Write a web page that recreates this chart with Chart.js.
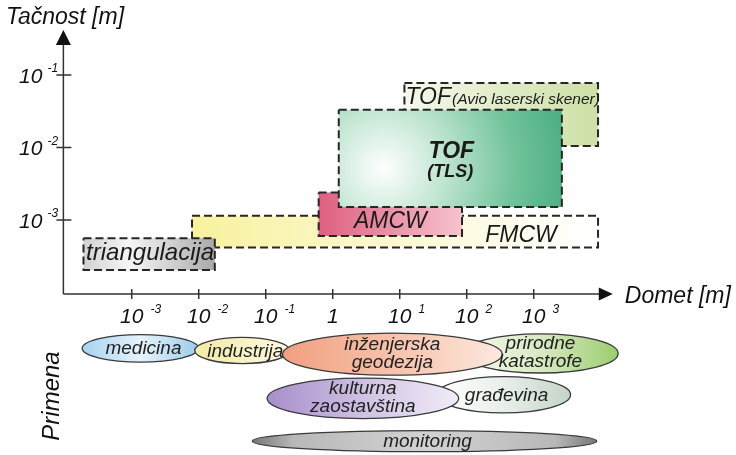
<!DOCTYPE html>
<html><head><meta charset="utf-8">
<script src="https://cdn.jsdelivr.net/npm/chart.js@4/dist/chart.umd.min.js"></script>
<style>html,body{margin:0;padding:0;background:#fff}canvas{display:block}</style>
</head><body>
<canvas id="c" width="736" height="455"></canvas>
<script>
// All values are log10 of metres: x = Domet (range), y = Tačnost (accuracy)
const xTickExps = [-3, -2, -1, 0, 1, 2, 3];
const yTickExps = [-1, -2, -3];

// measurement techniques (boxes), listed bottom layer first
const boxNames     = ['FMCW', 'triangulacija', 'AMCW', 'TOF (Avio laserski skener)', 'TOF (TLS)'];
const boxRangeFrom = [-2.10, -3.72, -0.21, 1.07, 0.09];
const boxRangeTo   = [ 3.96, -1.76,  1.93, 3.96, 3.42];
const boxAccTop    = [-2.94, -3.25, -2.62, -1.11, -1.48];
const boxAccBottom = [-3.38, -3.69, -3.22, -1.98, -2.82];

// applications (ellipses under the range axis), listed bottom layer first
const appNames        = ['medicina', 'industrija', 'prirodne\nkatastrofe', 'inženjerska\ngeodezija', 'građevina', 'kulturna\nzaostavština', 'monitoring'];
const appRangeCenter  = [-2.87, -1.35, 3.10, 0.89, 2.55, 0.45, 1.37];
const appRangeSpread  = [ 0.87,  0.71, 1.16, 1.64, 1.00, 1.43, 2.57];
const appRow          = [-4.77, -4.80, -4.84, -4.85, -5.41, -5.46, -6.05];
const appRowSpread    = [ 0.19,  0.18, 0.27, 0.29, 0.25, 0.28, 0.145];

const axisOrigin = -4.02;
const xArrowEnd = 4.18;
const yArrowEnd = -0.38;

const FONT = "'Liberation Sans', Arial, sans-serif";

// ---------- styles ----------
const boxStops = {
  'FMCW': [[0, '#f8f29e'], [0.5, '#fbf8d2'], [1, '#ffffff']],
  'triangulacija': [[0, '#d2d2d2'], [0.35, '#f6f6f6'], [1, '#a9a9a9']],
  'AMCW': [[0, '#df5f80'], [1, '#f6c3ce']],
  'TOF (Avio laserski skener)': [[0, '#f5f8ec'], [1, '#cde0a6']]
};
const appStops = [
  [[0, '#a7d3ef'], [0.5, '#e6f3fb'], [1, '#9ccced']],
  [[0, '#f2eaa6'], [1, '#fcfae2']],
  [[0, '#f6f9f0'], [0.5, '#d8eac3'], [1, '#9ccd70']],
  [[0, '#f19f80'], [0.6, '#f8c9b4'], [1, '#fde9df']],
  [[0, '#ffffff'], [0.5, '#e8efea'], [1, '#c3d5c8']],
  [[0, '#a78ecb'], [0.6, '#d6cbe7'], [1, '#f1ecf7']],
  [[0, '#777777'], [0.12, '#b8b8b8'], [0.5, '#d2d2d2'], [0.88, '#b8b8b8'], [1, '#777777']]
];

function boxFill(context) {
  const chart = context.chart;
  const i = context.datasetIndex;
  const sx = chart.scales.x, sy = chart.scales.y;
  if (!sx || !sy || sx.width === undefined) return '#eee';
  const ctx = chart.ctx;
  const x0 = sx.getPixelForValue(boxRangeFrom[i]), x1 = sx.getPixelForValue(boxRangeTo[i]);
  const y0 = sy.getPixelForValue(boxAccTop[i]), y1 = sy.getPixelForValue(boxAccBottom[i]);
  const name = boxNames[i];
  let g;
  if (name === 'TOF (TLS)') {
    const cx = x0 + (x1 - x0) * 0.2, cy = y0 + (y1 - y0) * 0.6;
    g = ctx.createRadialGradient(cx, cy, 0, cx, cy, (x1 - x0) * 0.85);
    g.addColorStop(0, '#ffffff');
    g.addColorStop(0.3, '#c4e7d4');
    g.addColorStop(0.7, '#70c299');
    g.addColorStop(1, '#4aad80');
  } else {
    g = ctx.createLinearGradient(x0, 0, x1, 0);
    boxStops[name].forEach(s => g.addColorStop(s[0], s[1]));
  }
  return g;
}

const datasets = boxNames.map((name, i) => ({
  label: name,
  data: [
    {x: boxRangeFrom[i], y: boxAccTop[i]},
    {x: boxRangeTo[i], y: boxAccTop[i]},
    {x: boxRangeTo[i], y: boxAccBottom[i]},
    {x: boxRangeFrom[i], y: boxAccBottom[i]},
    {x: boxRangeFrom[i], y: boxAccTop[i]}
  ],
  fill: 'shape',
  backgroundColor: boxFill,
  borderColor: '#262626',
  borderWidth: 2,
  borderDash: [8, 4],
  pointRadius: 0,
  tension: 0,
  order: boxNames.length - i
}));

function txt(ctx, s, x, y, size, align, weight) {
  ctx.font = (weight || '') + ' italic ' + size + 'px ' + FONT;
  ctx.textAlign = align || 'center';
  ctx.textBaseline = 'alphabetic';
  ctx.fillText(s, x, y);
}

const diagram = {
  id: 'diagram',
  beforeDatasetsDraw(chart) {
    const ctx = chart.ctx, sx = chart.scales.x, sy = chart.scales.y;
    const ox = sx.getPixelForValue(axisOrigin), oy = sy.getPixelForValue(axisOrigin);
    const xe = sx.getPixelForValue(xArrowEnd), ye = sy.getPixelForValue(yArrowEnd);
    ctx.save();
    ctx.strokeStyle = '#333'; ctx.fillStyle = '#111'; ctx.lineWidth = 1.5;
    ctx.beginPath();
    ctx.moveTo(ox, oy); ctx.lineTo(xe - 10, oy);
    ctx.moveTo(ox, oy); ctx.lineTo(ox, ye + 12);
    xTickExps.forEach(e => { const px = sx.getPixelForValue(e); ctx.moveTo(px, oy - 5); ctx.lineTo(px, oy + 5); });
    yTickExps.forEach(e => { const py = sy.getPixelForValue(e); ctx.moveTo(ox - 7, py); ctx.lineTo(ox + 8, py); });
    ctx.stroke();
    // arrow heads
    ctx.beginPath();
    ctx.moveTo(xe, oy); ctx.lineTo(xe - 14, oy - 6.5); ctx.lineTo(xe - 14, oy + 6.5); ctx.closePath();
    ctx.moveTo(ox, ye); ctx.lineTo(ox - 7.5, ye + 15); ctx.lineTo(ox + 7.5, ye + 15); ctx.closePath();
    ctx.fill();

    // tick labels
    ctx.fillStyle = '#111';
    xTickExps.forEach(e => {
      const px = sx.getPixelForValue(e);
      if (e === 0) { txt(ctx, '1', px, oy + 29, 21); return; }
      ctx.font = 'italic 21px ' + FONT;
      const w = ctx.measureText('10').width;
      txt(ctx, '10', px, oy + 29, 21);
      txt(ctx, String(e), px + w / 2 + 7, oy + 19, 12, 'left');
    });
    yTickExps.forEach(e => {
      const py = sy.getPixelForValue(e);
      txt(ctx, '10', ox - 21, py + 7.5, 21, 'right');
      txt(ctx, String(e), ox - 16, py - 3, 12, 'left');
    });
    // axis titles
    txt(ctx, 'Tačnost [m]', 6, 24, 23, 'left');
    txt(ctx, 'Domet [m]', xe + 12, oy + 9, 23, 'left');
    // Primena
    ctx.save();
    ctx.translate(59, 396);
    ctx.rotate(-Math.PI / 2);
    txt(ctx, 'Primena', 0, 0, 24, 'center');
    ctx.restore();

    // application ellipses
    appNames.forEach((n, i) => {
      const cx = sx.getPixelForValue(appRangeCenter[i]);
      const cy = sy.getPixelForValue(appRow[i]);
      const rx = Math.abs(sx.getPixelForValue(appRangeCenter[i] + appRangeSpread[i]) - cx);
      const ry = Math.abs(sy.getPixelForValue(appRow[i] + appRowSpread[i]) - cy);
      const g = ctx.createLinearGradient(cx - rx, 0, cx + rx, 0);
      appStops[i].forEach(s => g.addColorStop(s[0], s[1]));
      ctx.beginPath();
      ctx.ellipse(cx, cy, rx, ry, 0, 0, Math.PI * 2);
      ctx.fillStyle = g; ctx.fill();
      ctx.strokeStyle = '#3a3a3a'; ctx.lineWidth = 1.3; ctx.stroke();
    });
    ctx.fillStyle = '#222';
    appNames.forEach((n, i) => {
      const cx = sx.getPixelForValue(appRangeCenter[i]);
      const cy = sy.getPixelForValue(appRow[i]);
      const lines = n.split('\n');
      if (lines.length === 1) txt(ctx, lines[0], cx + 3, cy + 6, 19);
      else { txt(ctx, lines[0], cx, cy - 4, 19); txt(ctx, lines[1], cx, cy + 14, 19); }
    });
    ctx.restore();
  },
  afterDatasetsDraw(chart) {
    const ctx = chart.ctx, sx = chart.scales.x, sy = chart.scales.y;
    ctx.save();
    ctx.fillStyle = '#1a1a1a';
    boxNames.forEach((name, i) => {
      const x0 = sx.getPixelForValue(boxRangeFrom[i]), x1 = sx.getPixelForValue(boxRangeTo[i]);
      const y0 = sy.getPixelForValue(boxAccTop[i]), y1 = sy.getPixelForValue(boxAccBottom[i]);
      const cx = (x0 + x1) / 2, cy = (y0 + y1) / 2;
      if (name === 'TOF (TLS)') {
        txt(ctx, 'TOF', cx + 1, cy, 23, 'center', 'bold');
        txt(ctx, '(TLS)', cx, cy + 19, 18, 'center', 'bold');
      } else if (name === 'TOF (Avio laserski skener)') {
        txt(ctx, 'TOF', x0 + 1, y0 + 21, 23, 'left');
        ctx.font = 'italic 23px ' + FONT;
        const w = ctx.measureText('TOF').width;
        txt(ctx, '(Avio laserski skener)', x0 + 2 + w, y0 + 21, 15.5, 'left');
      } else if (name === 'AMCW') {
        txt(ctx, 'AMCW', cx, y1 - 8, 23);
      } else if (name === 'FMCW') {
        txt(ctx, 'FMCW', x1 - 77, y1 - 6, 23);
      } else {
        txt(ctx, name, cx + 1, cy + 6, 24);
      }
    });
    ctx.restore();
  }
};

const chart = new Chart(document.getElementById('c'), {
  type: 'line',
  data: { datasets },
  options: {
    responsive: false,
    animation: false,
    devicePixelRatio: 1,
    layout: { padding: 0 },
    events: [],
    scales: {
      x: { type: 'linear', min: -4.966, max: 6.019, display: false },
      y: { type: 'linear', min: -6.241, max: 0.0345, display: false }
    },
    plugins: { legend: { display: false }, tooltip: { enabled: false } }
  },
  plugins: [diagram]
});
</script>
</body></html>
